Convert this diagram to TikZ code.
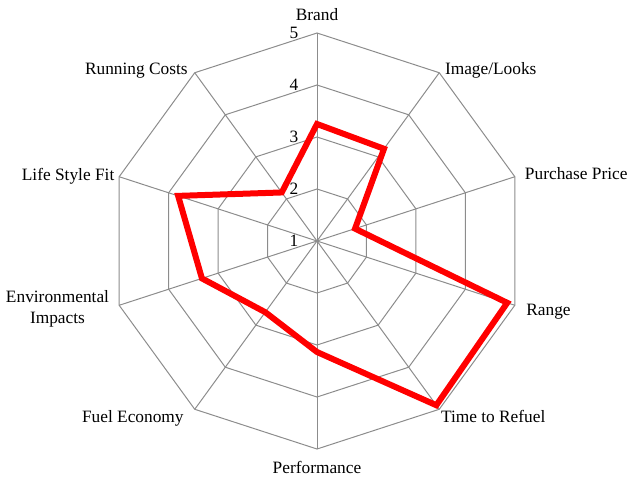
\documentclass[tikz,border=0pt]{standalone}
\usepackage{fontspec}
\setmainfont{Liberation Serif}
\begin{document}
\begin{tikzpicture}[x=0.75pt, y=0.75pt, font=\fontsize{13}{15.75}\selectfont]
                \tikzstyle{grid}=[draw=black!45, line width=0.75pt]
                \tikzstyle{series}=[draw=red, line width=4.5pt, line join=miter]
                \tikzstyle{axislabel}=[inner sep=2pt]
                \tikzstyle{tick}=[anchor=east, inner sep=1pt]

                \useasboundingbox (-317,-238) rectangle (313,241);

                % rings and spokes
                \foreach \r in {52,104,156,208}
                    \draw[grid] (90:\r) \foreach \a in {54,18,...,-234} {-- (\a:\r)} -- cycle;
                \foreach \a in {90,54,...,-234}
                    \draw[grid] (0,0) -- (\a:208);

                % scale
                \node[tick] (t1) at (-17,0) {1};
                \node[tick] (t2) at (-17,52) {2};
                \node[tick] (t3) at (-17,104) {3};
                \node[tick] (t4) at (-17,156) {4};
                \node[tick] (t5) at (-17,208) {5};

                % categories
                \node[axislabel, anchor=south] (brand) at (90:217) {Brand};
                \node[axislabel, anchor=south west, xshift=3, yshift=-5] (looks) at (54:206) {Image/Looks};
                \node[axislabel, anchor=west, xshift=4, yshift=2] (price) at (18:210) {Purchase Price};
                \node[axislabel, anchor=west, xshift=5, yshift=-4] (range) at (-18:210) {Range};
                \node[axislabel, anchor=north west] (refuel) at (-54:206) {Time to Refuel};
                \node[axislabel, anchor=north] (perf) at (-90:217) {Performance};
                \node[axislabel, anchor=north east, xshift=-7] (fuel) at (-126:206) {Fuel Economy};
                \node[axislabel, anchor=east, align=center, xshift=-4, yshift=-2] (env) at (-162:210) {Environmental\\Impacts};
                \node[axislabel, anchor=east] (life) at (162:210) {Life Style Fit};
                \node[axislabel, anchor=south east, xshift=-4, yshift=-5] (running) at (126:206) {Running Costs};

                % values
                \coordinate (d1) at (90:117);
                \coordinate (d2) at (54:114);
                \coordinate (d3) at (18:40);
                \coordinate (d4) at (-18:200);
                \coordinate (d5) at (-54:203);
                \coordinate (d6) at (-90:111);
                \coordinate (d7) at (-126:88);
                \coordinate (d8) at (-162:121);
                \coordinate (d9) at (162:146);
                \coordinate (d10) at (126:60);

                \draw[series] (d1) -- (d2) -- (d3) -- (d4) -- (d5) -- (d6) -- (d7) -- (d8) -- (d9) -- (d10) -- cycle;
            \end{tikzpicture}
\end{document}
